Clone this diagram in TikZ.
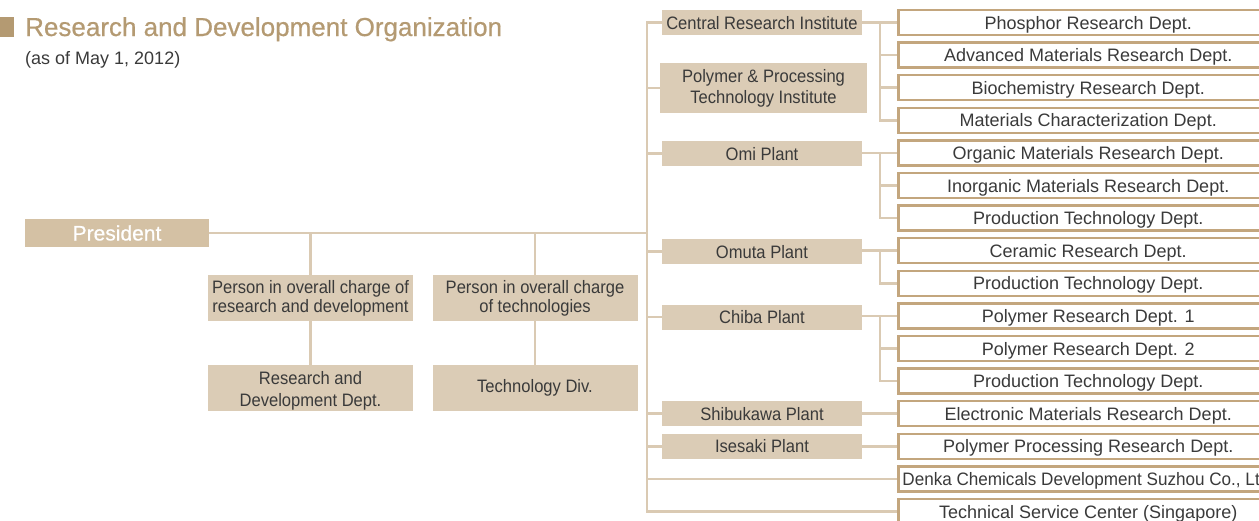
\documentclass[tikz,border=0pt]{standalone}
\usepackage{fontspec}
\setmainfont{Liberation Sans}
\newfontfamily\condfont[FakeStretch=0.92]{Liberation Sans}
\newfontfamily\narrowfont[FakeStretch=0.95]{Liberation Sans}
\newfontfamily\medfont[FakeBold=0.6]{Liberation Sans}
\definecolor{boxclr}{HTML}{DBCCB6}
\definecolor{presclr}{HTML}{D4C1A4}
\definecolor{lineclr}{HTML}{DACAB3}
\definecolor{deptclr}{HTML}{C3A67E}
\definecolor{titleclr}{HTML}{B49A72}
\definecolor{txt}{HTML}{3A3A3A}
\begin{document}
\begin{tikzpicture}[x=1pt,y=-1pt,
  conn/.style={draw=lineclr, line width=2.6pt},
  lbox/.style={fill=boxclr, inner sep=0pt, text=txt, align=center,
    font=\condfont\fontsize{18}{21}\selectfont},
  pbox/.style={lbox, minimum width=205pt, minimum height=46pt,
    font=\condfont\fontsize{18}{19}\selectfont},
  plant/.style={lbox, minimum width=200pt, minimum height=25pt,
    text height=13pt, text depth=0pt},
  dbox/.style={draw=deptclr, line width=2.5pt, fill=white, anchor=west,
    minimum width=380pt, minimum height=25pt, inner sep=0pt, text=txt,
    text height=13pt, text depth=0pt,
    font=\fontsize{18}{21}\selectfont}
]
\useasboundingbox (0,0) rectangle (1259,520);
\clip (0,0) rectangle (1259,520);

% title
\fill[titleclr] (0,17) rectangle (14,37);
\node[anchor=base west, inner sep=0pt, text=titleclr, font=\medfont\fontsize{26}{30}\selectfont] (title) at (25,36) {Research and Development Organization};
\node[anchor=base west, inner sep=0pt, text=txt, font=\fontsize{18}{21}\selectfont] (sub) at (25,64) {(as of May 1, 2012)};

% president and persons
\node[fill=presclr, inner sep=0pt, minimum width=184pt, minimum height=28pt, text=white, text height=15pt, text depth=0pt, font=\medfont\fontsize{21}{24}\selectfont] (pres) at (117,233) {President};
\node[pbox] (p1) at (310.5,298) {Person in overall charge of\\research and development};
\node[pbox] (p2) at (535,298) {Person in overall charge\\of technologies};
\node[pbox, font=\condfont\fontsize{18}{22}\selectfont] (rd) at (310.5,388) {\rule{0pt}{2pt}\\[-6pt]Research and\\Development Dept.};
\node[pbox] (td) at (535,388) {Technology Div.};

% institutes and plants
\node[plant] (central) at (762,22.5) {Central Research Institute};
\node[lbox, minimum width=207pt, minimum height=50pt] (polyinst) at (763.5,88) {Polymer \& Processing\\Technology Institute};
\node[plant] (omi) at (762,153.5) {Omi Plant};
\node[plant] (omuta) at (762,251.5) {Omuta Plant};
\node[plant] (chiba) at (762,317) {Chiba Plant};
\node[plant] (shibu) at (762,413.5) {Shibukawa Plant};
\node[plant] (isesaki) at (762,446.3) {Isesaki Plant};

% departments
\node[dbox] (d1) at (897,22.5) {Phosphor Research Dept.};
\node[dbox] (d2) at (897,55.1) {Advanced Materials Research Dept.};
\node[dbox] (d3) at (897,87.7) {Biochemistry Research Dept.};
\node[dbox] (d4) at (897,120.3) {Materials Characterization Dept.};
\node[dbox] (d5) at (897,152.9) {Organic Materials Research Dept.};
\node[dbox] (d6) at (897,185.5) {Inorganic Materials Research Dept.};
\node[dbox] (d7) at (897,218.1) {Production Technology Dept.};
\node[dbox] (d8) at (897,250.7) {Ceramic Research Dept.};
\node[dbox] (d9) at (897,283.3) {Production Technology Dept.};
\node[dbox] (d10) at (897,315.9) {Polymer Research Dept. 1};
\node[dbox] (d11) at (897,348.5) {Polymer Research Dept. 2};
\node[dbox] (d12) at (897,381.1) {Production Technology Dept.};
\node[dbox] (d13) at (897,413.7) {Electronic Materials Research Dept.};
\node[dbox] (d14) at (897,446.3) {Polymer Processing Research Dept.};
\node[dbox, font=\narrowfont\fontsize{18}{21}\selectfont] (d15) at (897,478.9) {Denka Chemicals Development Suzhou Co., Ltd.};
\node[dbox] (d16) at (897,511.5) {Technical Service Center (Singapore)};

\coordinate (tx) at (647,0);
\coordinate (bx) at (880,0);

% trunk
\draw[conn] (central.west) -- (central.west -| tx) -- (d16.west -| tx) -- (d16.west);
\draw[conn] (pres.east) -- (pres.east -| tx);
\draw[conn] (p1.north) -- (p1.north |- pres.east);
\draw[conn] (p2.north) -- (p2.north |- pres.east);
\draw[conn] (p1.south) -- (rd.north);
\draw[conn] (p2.south) -- (td.north);
\foreach \n in {polyinst,omi,omuta,chiba,shibu,isesaki}
  \draw[conn] (\n.west) -- (\n.west -| tx);
\draw[conn] (d15.west) -- (d15.west -| tx);

% brackets
\draw[conn] (central.east) -- (d1.west);
\draw[conn] (d1.west -| bx) -- (d4.west -| bx) -- (d4.west);
\draw[conn] (d2.west -| bx) -- (d2.west);
\draw[conn] (d3.west -| bx) -- (d3.west);
\draw[conn] (omi.east |- d5.west) -- (d5.west);
\draw[conn] (d5.west -| bx) -- (d7.west -| bx) -- (d7.west);
\draw[conn] (d6.west -| bx) -- (d6.west);
\draw[conn] (omuta.east |- d8.west) -- (d8.west);
\draw[conn] (d8.west -| bx) -- (d9.west -| bx) -- (d9.west);
\draw[conn] (chiba.east |- d10.west) -- (d10.west);
\draw[conn] (d10.west -| bx) -- (d12.west -| bx) -- (d12.west);
\draw[conn] (d11.west -| bx) -- (d11.west);
\draw[conn] (shibu.east |- d13.west) -- (d13.west);
\draw[conn] (isesaki.east |- d14.west) -- (d14.west);
\end{tikzpicture}
\end{document}
